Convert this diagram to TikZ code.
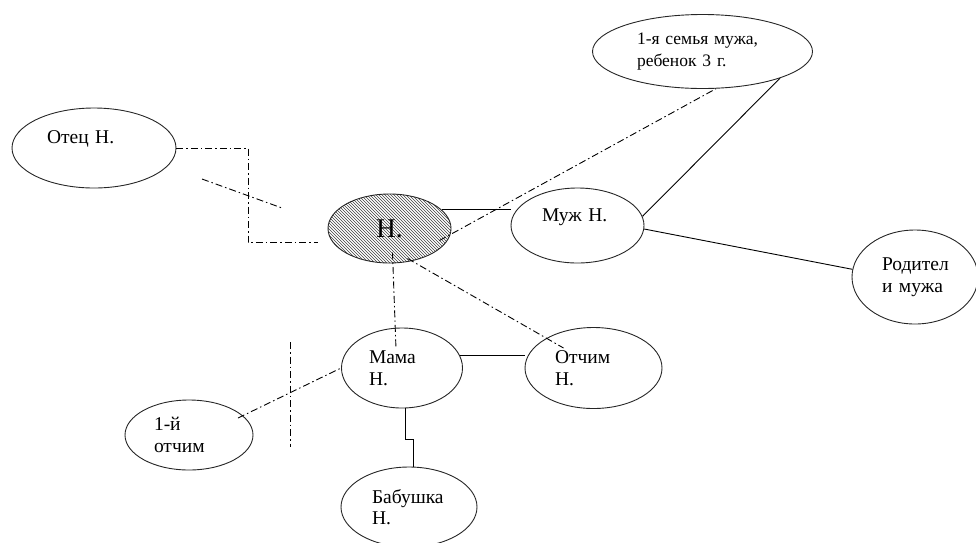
\documentclass[tikz,border=0pt]{standalone}
\usepackage{fontspec}
\setmainfont{Liberation Serif}
\newfontfamily\timesfont{Liberation Serif}
\usetikzlibrary{arrows,positioning,calc,shapes.geometric,patterns}
\tikzstyle{person}=[draw=black!85,ellipse,inner sep=0pt,align=left,font=\timesfont\fontsize{19.5pt}{21.7pt}\selectfont]
\tikzstyle{broken}=[dash pattern=on 7pt off 3pt on 1.5pt off 3pt]

\begin{document}
\begin{tikzpicture}[x=1pt,y=-1pt,line width=0.9pt]
    \useasboundingbox (0,0) rectangle (976,542);
    \node [person,minimum width=164pt,minimum height=80pt,text width=94pt] (otec) at (94,148) {Отец Н.\\~};
    \node [person,minimum width=123pt,minimum height=69pt,pattern=north west lines,pattern color=black!75,
      font=\timesfont\fontsize{27pt}{30pt}\selectfont] (n) at (389.5,228.5) {Н.};
    \node [person,minimum width=220pt,minimum height=74pt,text width=131pt,
      font=\timesfont\fontsize{17.5pt}{22pt}\selectfont] (semya) at (702.5,51.5) {\mbox{1-я семья мужа,}\\ребенок 3 г.};
    \node [person,minimum width=133pt,minimum height=75pt,text width=71pt] (muzh) at (577.5,225.5) {Муж Н.\\~};
    \node [person,minimum width=126pt,minimum height=94pt,text width=66pt] (rod) at (915,277) {\mbox{Родител}\\и мужа};
    \node [person,minimum width=121pt,minimum height=80pt,text width=66pt] (mama) at (402,368) {Мама\\Н.};
    \node [person,minimum width=137pt,minimum height=81pt,text width=77pt] (otchim) at (593.5,368) {Отчим\\Н.};
    \node [person,minimum width=128pt,minimum height=70pt,text width=70pt] (otchim1) at (189,435) {1-й\\отчим};
    \node [person,minimum width=136pt,minimum height=80pt,text width=74pt] (babushka) at (409,507) {\mbox{Бабушка}\\Н.};
    % broken ties
    \draw [broken] (otec.east) -- ++(72,0) |- ([shift={(-10,14)}]n.west);
    \coordinate (cutA) at (202,179);
    \coordinate (cutB) at (282,208);
    \draw [broken] (cutA) -- (cutB);
    \draw [broken] ([shift={(50,12)}]n.center) -- (semya.290);
    \draw [broken] ([shift={(18,30)}]n.center) -- ([shift={(-30,-20)}]otchim.center);
    \draw [broken] ([shift={(3,24)}]n.center) -- ([shift={(-6,-19)}]mama.center);
    \draw [broken] ([shift={(49,-17)}]otchim1.center) -- (mama.west);
    \coordinate (cutC) at (290,342);
    \coordinate (cutD) at (290,447);
    \draw [broken] (cutC) -- (cutD);
    % solid ties
    \draw (n.20) -- (n.20 -| muzh.west);
    \draw (muzh.8) -- (semya.341);
    \draw (muzh.-3) -- (rod.173);
    \draw (mama.12) -- (mama.12 -| otchim.west);
    \draw ([xshift=3pt]mama.south) -- ++(0,31) -- ++(8,0) -- ([xshift=4pt]babushka.north);
\end{tikzpicture}
\end{document}
